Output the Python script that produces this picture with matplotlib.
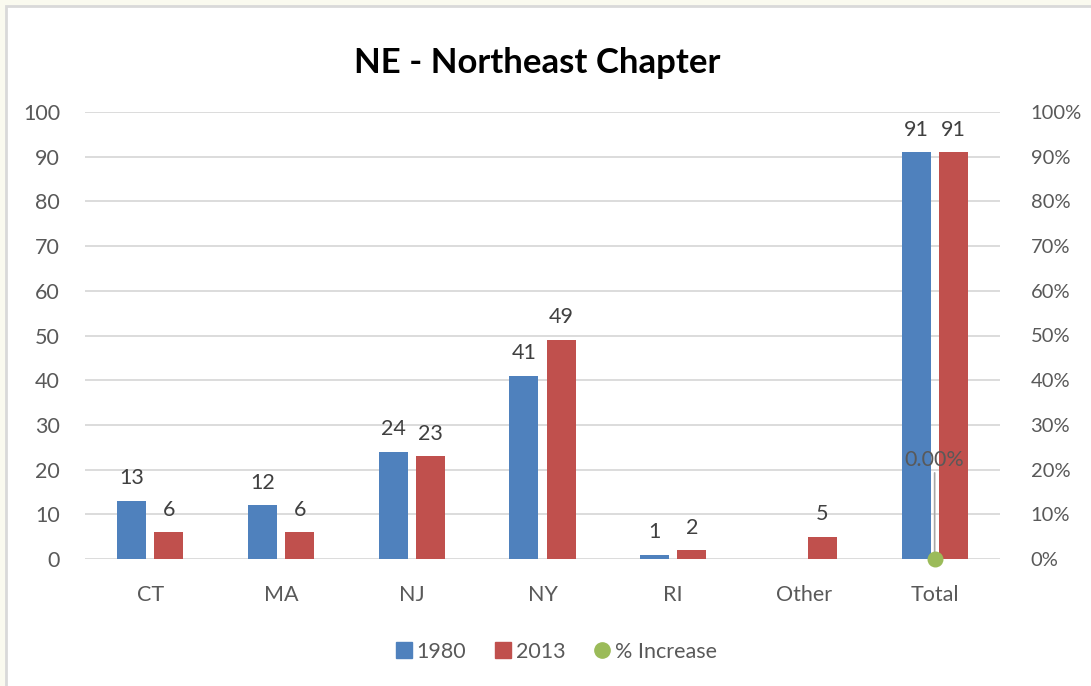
import matplotlib.pyplot as plt
from matplotlib.patches import Rectangle
import numpy as np

plt.rcParams['font.family'] = ['Lato', 'DejaVu Sans']

categories = ['CT', 'MA', 'NJ', 'NY', 'RI', 'Other', 'Total']
vals_1980 = [13, 12, 24, 41, 1, None, 91]
vals_2013 = [6, 6, 23, 49, 2, 5, 91]
pct_increase = [0.0]  # only shown for Total
pct_idx = [6]

BLUE = '#4F81BD'
RED = '#C0504D'
GREEN = '#9BBB59'
TXT = '#595959'
GRID = '#D9D9D9'
FS = 15.5

W, H = 1091, 686
fig = plt.figure(figsize=(W / 100, H / 100), dpi=100)
fig.patch.set_facecolor('#FAFAEF')
# white chart area with gray frame
fig.patches.append(Rectangle((6 / W, -0.1), 1.2, 1 - 6 / H + 0.1, transform=fig.transFigure,
                             facecolor='white', edgecolor='#D9D9D9', linewidth=2, zorder=-10))

ax = fig.add_axes([85 / W, 1 - 559 / H, (1000 - 85) / W, (559 - 112) / H])
ax.set_facecolor('none')
x = np.arange(len(categories))
bw = 0.222
off = 0.142

for i, v in enumerate(vals_1980):
    if v is None:
        continue
    ax.bar(x[i] - off, v, bw, color=BLUE, zorder=3)
    ax.annotate(str(v), (x[i] - off, v), xytext=(0, 9), textcoords='offset points',
                ha='center', va='bottom', fontsize=FS, color='#404040')
for i, v in enumerate(vals_2013):
    ax.bar(x[i] + off, v, bw, color=RED, zorder=3)
    ax.annotate(str(v), (x[i] + off, v), xytext=(0, 9), textcoords='offset points',
                ha='center', va='bottom', fontsize=FS, color='#404040')

ax.set_xlim(-0.5, len(categories) - 0.5)
ax.set_ylim(0, 100)
ax.set_yticks(range(0, 101, 10))
ax.set_xticks(x)
ax.set_xticklabels(categories)
ax.grid(axis='y', color=GRID, linewidth=1.3, zorder=0)
ax.set_axisbelow(True)
for s in ax.spines.values():
    s.set_visible(False)
ax.tick_params(axis='both', length=0, labelsize=FS, colors=TXT)
ax.tick_params(axis='y', pad=18)
ax.tick_params(axis='x', pad=19)

ax2 = ax.twinx()
ax2.set_ylim(0, 1)
ax2.set_yticks(np.linspace(0, 1, 11))
ax2.set_yticklabels([f'{int(round(t * 100))}%' for t in np.linspace(0, 1, 11)])
ax2.tick_params(axis='y', length=0, labelsize=14.5, colors=TXT, pad=22)
for s in ax2.spines.values():
    s.set_visible(False)
ax2.scatter([x[i] for i in pct_idx], pct_increase, s=110, color=GREEN, zorder=5, clip_on=False)
for i, p in zip(pct_idx, pct_increase):
    ax2.annotate(f'{p * 100:.2f}%', (x[i], p), xytext=(0, 64), textcoords='offset points',
                 ha='center', va='bottom', fontsize=FS, color=TXT,
                 arrowprops=dict(arrowstyle='-', color='#A6A6A6', lw=1.2, shrinkA=0, shrinkB=0))

fig.text(537 / W, 1 - 63 / H, 'NE - Northeast Chapter', ha='center', va='center',
         fontsize=25, fontweight='bold', color='black')

handles = [
    plt.Line2D([], [], marker='s', color=BLUE, linestyle='none', markersize=12),
    plt.Line2D([], [], marker='s', color=RED, linestyle='none', markersize=12),
    plt.Line2D([], [], marker='o', color=GREEN, linestyle='none', markersize=11),
]
fig.legend(handles, ['1980', '2013', '% Increase'], loc='center', bbox_to_anchor=(555 / W, 1 - 652 / H),
           ncol=3, frameon=False, fontsize=FS, labelcolor=TXT, handletextpad=0.1, columnspacing=1.2,
           handlelength=1.0)

fig.savefig('out.png', dpi=100)
